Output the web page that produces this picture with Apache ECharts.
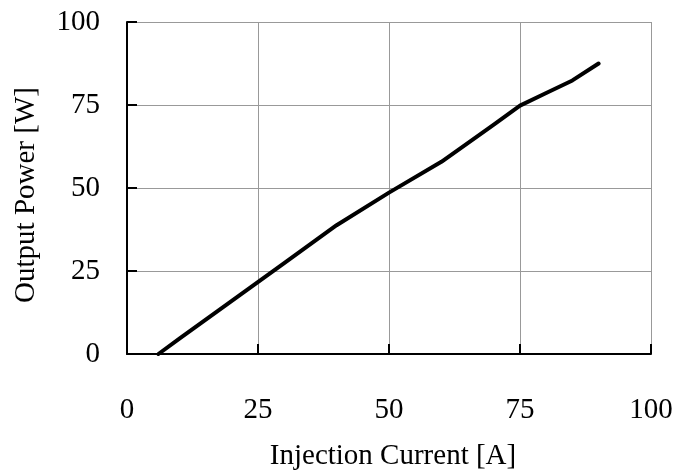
<!DOCTYPE html>
<html>
<head>
<meta charset="utf-8">
<script src="https://cdn.jsdelivr.net/npm/echarts@6/dist/echarts.min.js"></script>
<style>html,body{margin:0;padding:0;background:#fff}#c{width:678px;height:474px}</style>
</head>
<body>
<div id="c"></div>
<script>
var currentA = [6, 10, 20, 30, 40, 50, 60, 70, 75, 80, 85, 90];
var powerW = [0, 4.6, 16.0, 27.4, 38.8, 48.6, 57.9, 69.1, 74.8, 78.6, 82.4, 87.5];
var xTicks = [0, 25, 50, 75, 100];
var yTicks = [0, 25, 50, 75, 100];
var xName = 'Injection Current [A]';
var yName = 'Output Power [W]';

var chart = echarts.init(document.getElementById('c'), null, {renderer: 'canvas'});
var font = 'Liberation Serif';
var fs = 29;
var axisCommon = {
  type: 'value', min: 0, max: 100, interval: 25,
  axisLine: {show: true, lineStyle: {color: '#000', width: 2}},
  axisTick: {show: true, inside: true, length: 10, lineStyle: {color: '#000', width: 2}},
  splitLine: {show: true, lineStyle: {color: '#999', width: 1}},
  nameLocation: 'middle'
};
chart.setOption({
  animation: false,
  backgroundColor: '#fff',
  grid: {left: 127, right: 27, top: 22, bottom: 120, containLabel: false, outerBoundsMode: 'none'},
  xAxis: Object.assign({}, axisCommon, {
    name: xName, nameGap: 88,
    nameTextStyle: {fontFamily: font, fontSize: fs, color: '#000', padding: [0, 0, 0, 8]},
    axisLabel: {margin: 42, fontFamily: font, fontSize: fs, color: '#000',
      formatter: function (v) { return xTicks.indexOf(v) >= 0 ? String(v) : ''; }}
  }),
  yAxis: Object.assign({}, axisCommon, {
    name: yName, nameGap: 86,
    nameTextStyle: {fontFamily: font, fontSize: fs, color: '#000', padding: [0, 14, 0, 0]},
    axisLabel: {margin: 27, fontFamily: font, fontSize: fs, color: '#000',
      formatter: function (v) { return yTicks.indexOf(v) >= 0 ? String(v) : ''; }}
  }),
  series: [{
    type: 'line',
    data: currentA.map(function (x, i) { return [x, powerW[i]]; }),
    showSymbol: false,
    smooth: false,
    lineStyle: {color: '#000', width: 4, cap: 'round', join: 'round'},
    z: 5
  }]
});
</script>
</body>
</html>
